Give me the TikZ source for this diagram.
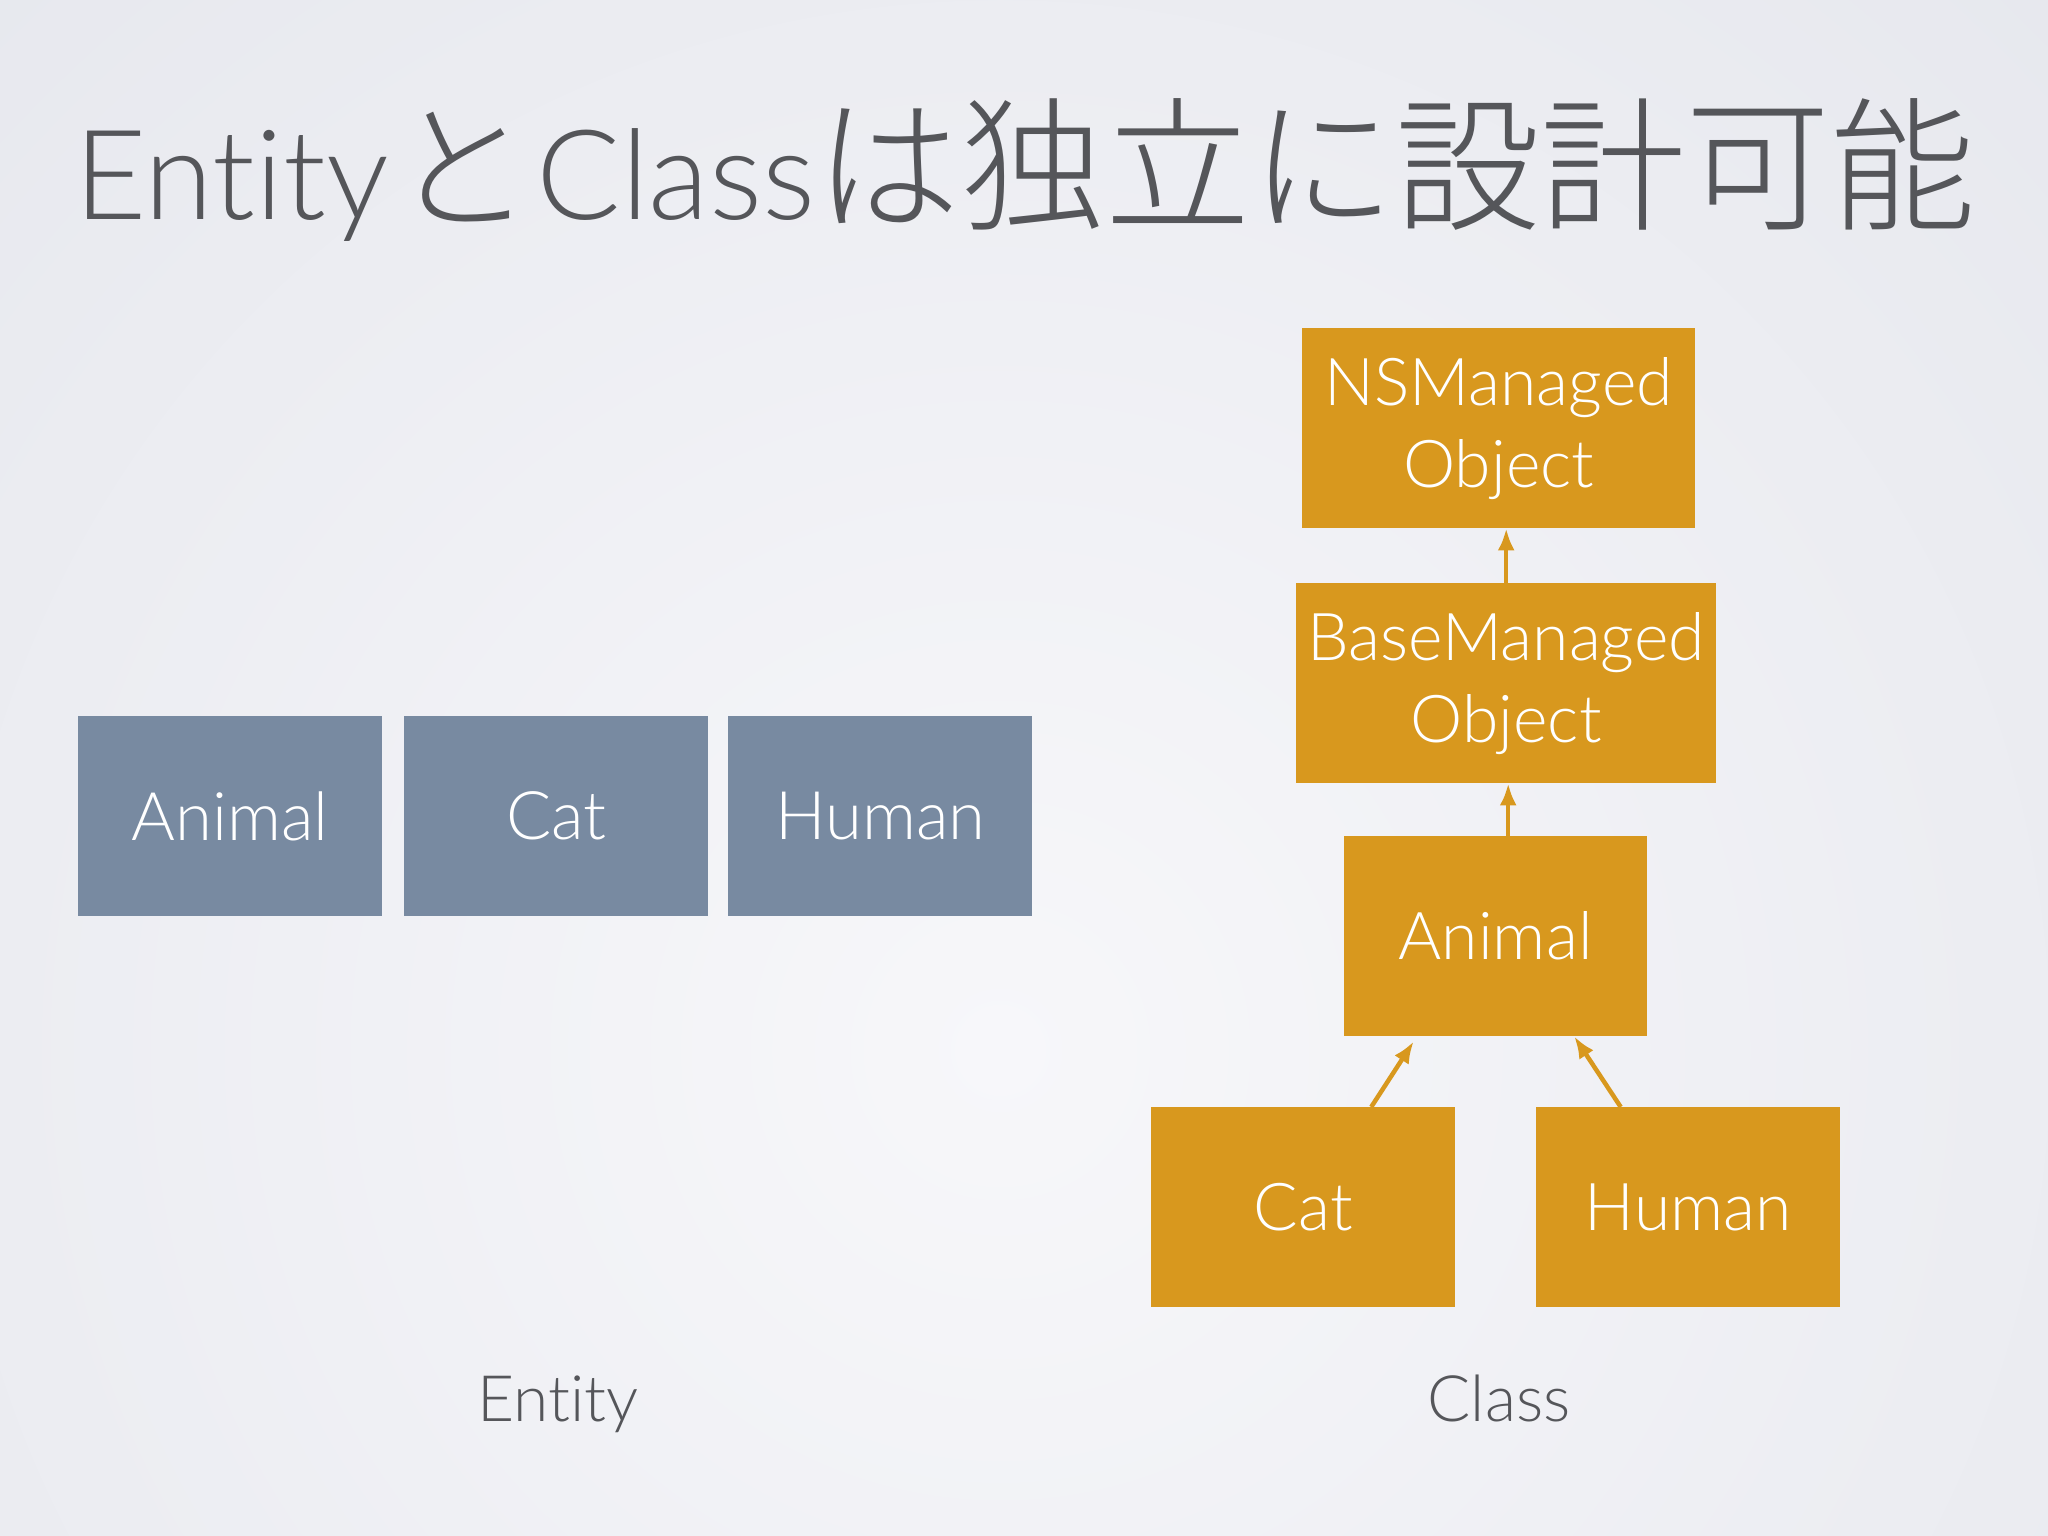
\documentclass[tikz,border=0pt]{standalone}
\usepackage{fontspec}
\IfFontExistsTF{Lato Light}{\setmainfont{Lato Light}[Ligatures={NoCommon}]}{\setmainfont{Lato}[Ligatures={NoCommon}]}
\IfFontExistsTF{Noto Sans CJK JP Light}{\newfontfamily\jp{Noto Sans CJK JP Light}}{\newfontfamily\jp{Noto Sans CJK JP}}
\usetikzlibrary{arrows.meta}
\definecolor{bluegray}{RGB}{120,138,161}
\definecolor{gold}{RGB}{216,152,30}
\definecolor{ink}{RGB}{85,86,90}
\definecolor{bgin}{RGB}{247,247,250}
\definecolor{bgout}{RGB}{224,226,233}
\tikzset{
  ebox/.style={fill=bluegray, text=white, minimum width=304pt, minimum height=200pt,
    inner sep=0pt, font=\fontsize{67}{82}\selectfont, align=center, anchor=north west},
  cbox/.style={fill=gold, text=white, minimum height=200pt,
    inner sep=0pt, font=\fontsize{66}{82}\selectfont, align=center, anchor=north west},
  inh/.style={draw=gold, line width=4.5pt, -{Latex[length=22pt,width=17pt]}},
  lbl/.style={text=ink, font=\fontsize{64}{76}\selectfont, anchor=base, inner sep=0pt}
}
\begin{document}
\begin{tikzpicture}[x=1pt,y=-1pt]
\useasboundingbox (0,0) rectangle (2048,1536);
\begin{scope}
\clip (0,0) rectangle (2048,1536);
\fill[bgout] (0,0) rectangle (2048,1536);
\shade[inner color=bgin, outer color=bgout] (1000,1050) circle (2100);
\end{scope}
% title
\node[text=ink, anchor=base west, inner sep=0pt, font=\fontsize{125}{150}\selectfont] (title) at (74,219)
  {Entity\hspace{4pt}{\jp\fontsize{140}{150}\selectfont と}\hspace{4pt}Class{\jp\fontsize{145}{150}\selectfont は独立に設計可能}};
% entity boxes
\node[ebox] (eanimal) at (78,716) {Animal};
\node[ebox] (ecat) at (404,716) {Cat};
\node[ebox] (ehuman) at (728,716) {Human};
% class boxes
\node[cbox, minimum width=393pt] (ns) at (1302,328) {NSManaged\\Object};
\node[cbox, minimum width=420pt] (base) at (1296,583) {BaseManaged\\Object};
\node[cbox, minimum width=303pt] (animal) at (1344,836) {Animal};
\node[cbox, minimum width=304pt] (cat) at (1151,1107) {Cat};
\node[cbox, minimum width=304pt] (human) at (1536,1107) {Human};
% arrows
\draw[inh] (base.north) -- (base.north |- ns.south);
\draw[inh] ([xshift=12.5pt]animal.north) -- ([xshift=12.5pt]animal.north |- base.south);
\draw[inh] ([xshift=68pt]cat.north) -- ([xshift=-82pt,yshift=-5pt]animal.south);
\draw[inh] ([xshift=-67.5pt]human.north) -- ([xshift=78.5pt]animal.south);
% labels
\node[lbl] (lentity) at (558,1421) {Entity};
\node[lbl] (lclass) at (1499,1421) {Class};
\end{tikzpicture}
\end{document}
